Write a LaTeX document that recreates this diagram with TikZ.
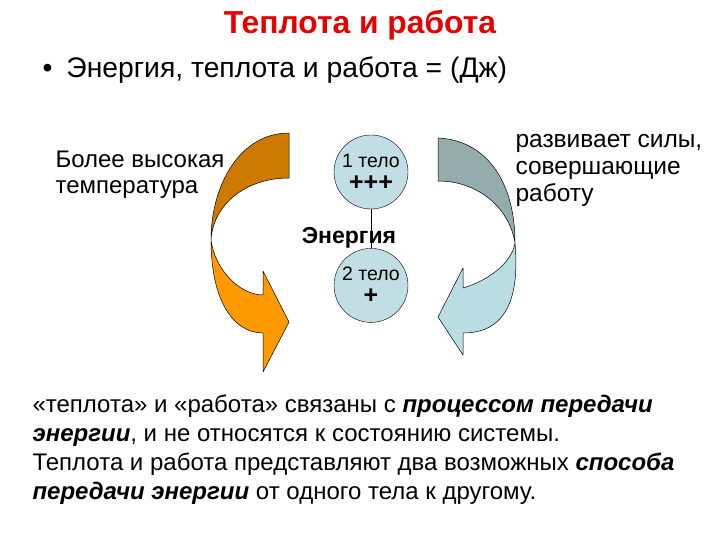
\documentclass[tikz,border=0pt]{standalone}
\usepackage{fontspec}
\setmainfont{Liberation Sans}
\usetikzlibrary{positioning}
\definecolor{titlered}{RGB}{230,0,0}
\definecolor{heatdark}{RGB}{204,122,0}
\definecolor{heatlight}{RGB}{255,153,0}
\definecolor{workdark}{RGB}{148,172,172}
\definecolor{worklight}{RGB}{185,221,226}
\definecolor{bodyblue}{RGB}{192,222,228}
\begin{document}
\begin{tikzpicture}
[x=1pt, y=-1pt, node distance=39pt, font=\fontsize{23.5}{26}\selectfont]
\tikzstyle{body}=[circle, draw, fill=bodyblue, inner sep=0mm, minimum size=74pt, align=center, font=\fontsize{19.5}{22}\selectfont]
\tikzstyle{ribbon}=[draw, line width=0.5pt, line join=round]
\useasboundingbox (0,0) rectangle (720,540);

\node (title) at (360,25) {\fontsize{31.8}{34}\selectfont\bfseries\color{titlered}Теплота и работа};
\node[anchor=west] (bullet) at (39,70) {\fontsize{28.3}{31}\selectfont\textbullet\hspace{14pt}Энергия, теплота и работа = (Дж)};

% heat arrow
\filldraw[ribbon, fill=heatdark] (289,133) .. controls (240,133) and (211,185) .. (211,240) .. controls (213,205) and (245,178) .. (289,178) -- cycle;
\filldraw[ribbon, fill=heatlight] (211,240) .. controls (211,300) and (233,333) .. (263,333) -- (263,372) -- (289,322) -- (263,271) -- (263,295) .. controls (240,295) and (215,270) .. (211,240) -- cycle;

% work arrow
\filldraw[ribbon, fill=workdark] (438,138) .. controls (485,140) and (515,180) .. (515,243) .. controls (510,210) and (480,181) .. (438,181) -- cycle;
\filldraw[ribbon, fill=worklight] (515,243) .. controls (520,300) and (505,333) .. (463,333) -- (463,355) -- (438,317) -- (463,268) -- (463,288) .. controls (490,280) and (512,262) .. (515,243) -- cycle;

\node[anchor=north west, align=left, font=\fontsize{24}{26}\selectfont] (hot) at (52,147) {Более высокая\\температура};
\node[anchor=north west, align=left, font=\fontsize{24.5}{27}\selectfont] (force) at (512,131) {развивает силы,\\совершающие\\работу};

\node[body] (T1) at (371,172) {1 тело\\[1pt]{\fontsize{25}{25}\selectfont\bfseries +++}};
\node[body] (T2) [below=of T1] {2 тело\\[1pt]{\fontsize{25}{25}\selectfont\bfseries +}};
\draw (T1) -- (T2);
\node (E) at (349,238) {\fontsize{23}{26}\selectfont\bfseries Энергия};

\node[anchor=north west, align=left, font=\fontsize{24}{29}\selectfont] (note) at (29,391)
{«теплота» и «работа» связаны с \textbf{\textit{процессом передачи}}\\
\textbf{\textit{энергии}}, и не относятся к состоянию системы.\\
Теплота и работа представляют два возможных \textbf{\textit{способа}}\\
\textbf{\textit{передачи энергии}} от одного тела к другому.};
\end{tikzpicture}
\end{document}
